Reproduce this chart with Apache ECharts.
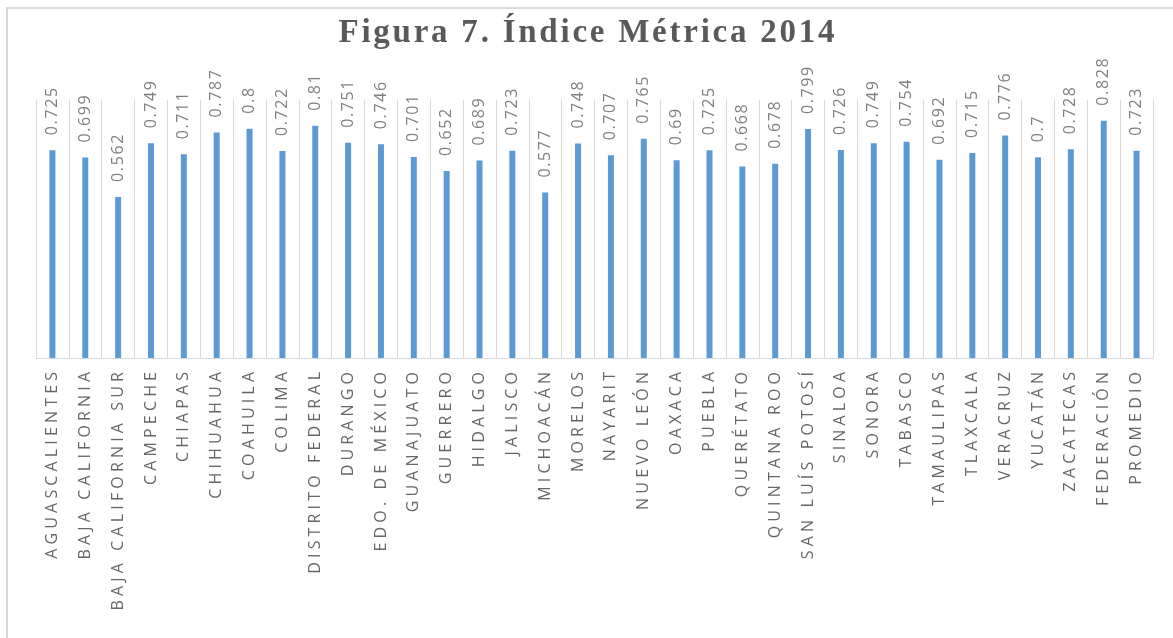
<!DOCTYPE html>
<html>
<head>
<meta charset="utf-8">
<script src="https://cdn.jsdelivr.net/npm/echarts@6/dist/echarts.min.js"></script>
<style>
  html, body { margin: 0; padding: 0; background: #fff; overflow: hidden; }
  #frame {
    position: absolute; left: 6px; top: 7px; width: 1250px; height: 700px;
    border: 2px solid #d9d9d9; box-sizing: border-box;
  }
  #chart { position: absolute; left: 0; top: 0; width: 1173px; height: 638px; }
</style>
</head>
<body>
<div id="frame"></div>
<div id="chart"></div>
<script>
// States (and the two summary columns) on the category axis
const estados = [
  'AGUASCALIENTES', 'BAJA CALIFORNIA', 'BAJA CALIFORNIA SUR', 'CAMPECHE', 'CHIAPAS',
  'CHIHUAHUA', 'COAHUILA', 'COLIMA', 'DISTRITO FEDERAL', 'DURANGO', 'EDO. DE MÉXICO',
  'GUANAJUATO', 'GUERRERO', 'HIDALGO', 'JALISCO', 'MICHOACÁN', 'MORELOS', 'NAYARIT',
  'NUEVO LEÓN', 'OAXACA', 'PUEBLA', 'QUERÉTATO', 'QUINTANA ROO', 'SAN LUÍS POTOSÍ',
  'SINALOA', 'SONORA', 'TABASCO', 'TAMAULIPAS', 'TLAXCALA', 'VERACRUZ', 'YUCATÁN',
  'ZACATECAS', 'FEDERACIÓN', 'PROMEDIO'
]

// Índice Métrica 2014
const indice = [
  0.725, 0.699, 0.562, 0.749, 0.711, 0.787, 0.8, 0.722, 0.81, 0.751, 0.746,
  0.701, 0.652, 0.689, 0.723, 0.577, 0.748, 0.707, 0.765, 0.69, 0.725, 0.668,
  0.678, 0.799, 0.726, 0.749, 0.754, 0.692, 0.715, 0.776, 0.7, 0.728, 0.828, 0.723
]

const titulo = 'Figura 7. Índice Métrica 2014'

// canvas text has no letter-spacing, so pad characters with small spaces
const spaced = (s, sep) => Array.from(String(s)).join(sep)

const chart = echarts.init(document.getElementById('chart'), null, { renderer: 'canvas' })

chart.setOption({
  animation: false,
  backgroundColor: 'transparent',
  title: {
    text: spaced(titulo, '\u200a'),
    left: 'center',
    top: 12,
    textStyle: {
      fontFamily: 'Liberation Serif',
      fontWeight: 'bold',
      fontSize: 33,
      color: '#595959'
    }
  },
  grid: { left: 36, right: 20, top: 100, bottom: 280 },
  xAxis: {
    type: 'category',
    data: estados,
    axisLine: { lineStyle: { color: '#d9d9d9', width: 1 } },
    axisTick: { show: false },
    splitLine: { show: true, lineStyle: { color: '#d9d9d9', width: 1 } },
    axisLabel: {
      interval: 0,
      rotate: 90,
      margin: 14,
      fontFamily: 'Open Sans',
      fontSize: 16,
      color: '#666666',
      formatter: (v) => spaced(v, ' ')
    }
  },
  yAxis: {
    type: 'value',
    min: 0,
    max: 0.9,
    show: false,
    splitLine: { show: false }
  },
  series: [
    {
      type: 'bar',
      data: indice,
      barWidth: 6,
      itemStyle: { color: '#5b9bd5' },
      label: {
        show: true,
        position: 'top',
        rotate: 90,
        align: 'left',
        verticalAlign: 'middle',
        distance: 15,
        fontFamily: 'Open Sans',
        fontSize: 16,
        color: '#7f7f7f',
        formatter: (p) => spaced(p.value, '\u200a')
      }
    }
  ]
})
</script>
</body>
</html>
